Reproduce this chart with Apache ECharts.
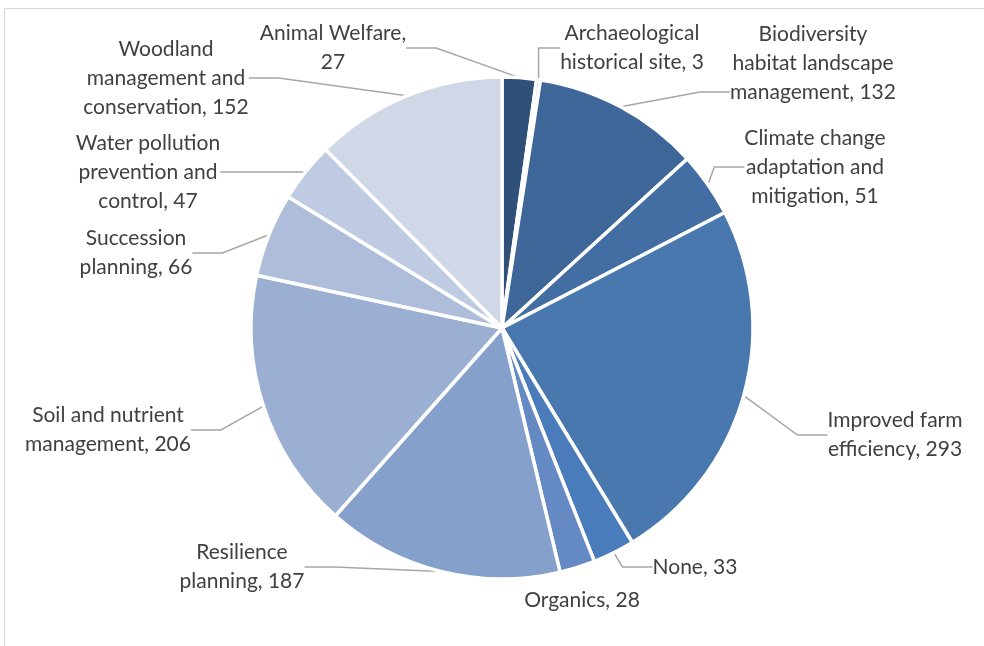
<!DOCTYPE html>
<html>
<head>
<meta charset="utf-8">
<script src="https://cdn.jsdelivr.net/npm/echarts@6/dist/echarts.min.js"></script>
<style>
  html, body { margin: 0; padding: 0; background: #fff; }
  #chart { width: 984px; height: 646px; }
</style>
</head>
<body>
<div id="chart"></div>
<script>
// categories (with the line breaks used in the labels) and values
const categories = [
  'Animal Welfare',
  'Archaeological\nhistorical site',
  'Biodiversity\nhabitat landscape\nmanagement',
  'Climate change\nadaptation and\nmitigation',
  'Improved farm\nefficiency',
  'None',
  'Organics',
  'Resilience\nplanning',
  'Soil and nutrient\nmanagement',
  'Succession\nplanning',
  'Water pollution\nprevention and\ncontrol',
  'Woodland\nmanagement and\nconservation'
];
const values = [27, 3, 132, 51, 293, 33, 28, 187, 206, 66, 47, 152];
const colors = [
  '#2f5079', '#345684', '#3e6699', '#426ea4', '#4878ae', '#4a7bbb',
  '#6489c3', '#85a0ca', '#9bafd2', '#adbdda', '#bfcbe3', '#d0d8e7'
];

// label block centres (biodiversity: centre of its padded block)
const labelPos = [
  [333, 48], [632, 48], [813, 92], [815, 167], [895, 435], [695, 567],
  [582, 600], [242, 567], [108, 430], [136, 253], [148, 172], [166, 78]
];

const chart = echarts.init(document.getElementById('chart'));

chart.setOption({
  animation: false,
  graphic: [{
    type: 'rect',
    shape: { x: 4.5, y: 8.5, width: 1000, height: 700 },
    style: { fill: 'none', stroke: '#d9d9d9', lineWidth: 1 },
    silent: true
  }],
  series: [{
    type: 'pie',
    center: [502, 328],
    radius: 251,
    startAngle: 90,
    clockwise: true,
    itemStyle: { borderColor: '#fff', borderWidth: 3.5 },
    label: {
      show: true,
      fontFamily: 'Lato',
      fontSize: 21,
      lineHeight: 29,
      color: '#404040',
      align: 'center',
      formatter: function (p) {
        const sep = p.dataIndex === 0 ? ',\n' : ', ';
        // two blank rows under biodiversity so its leader line meets the last row
        const tail = p.dataIndex === 2 ? '\n \n ' : '';
        return p.name + sep + p.value + tail;
      }
    },
    labelLine: {
      show: true,
      lineStyle: { color: '#a6a6a6', width: 1.5 }
    },
    labelLayout: function (p) {
      const pos = labelPos[p.dataIndex];
      return { x: pos[0], y: pos[1], align: 'center', verticalAlign: 'middle' };
    },
    data: categories.map((name, i) => ({
      name: name,
      value: values[i],
      itemStyle: { color: colors[i] },
      labelLine: { show: i !== 6 }
    }))
  }]
});
</script>
</body>
</html>
